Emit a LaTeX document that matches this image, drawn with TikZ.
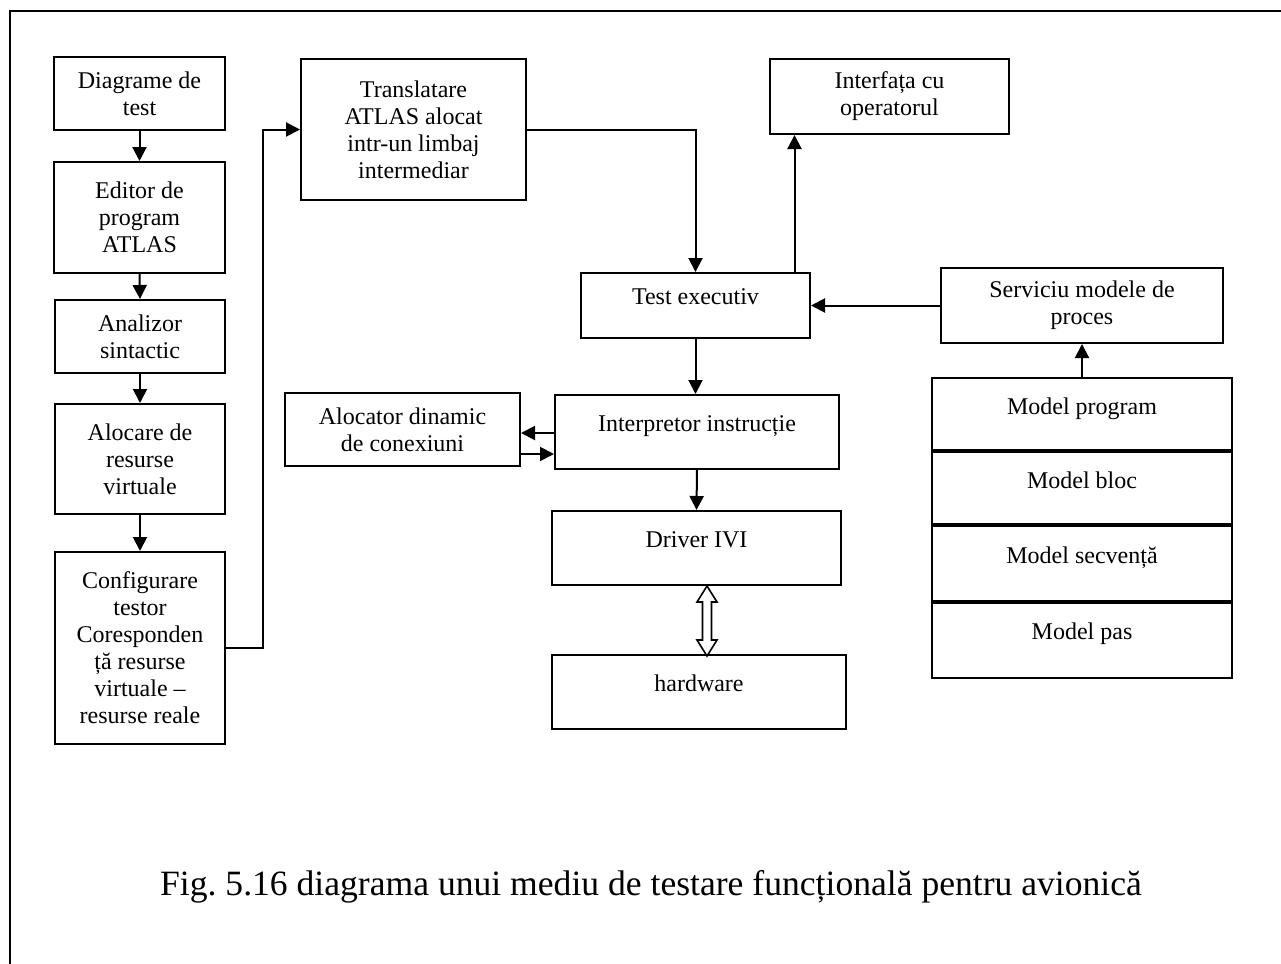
\documentclass[tikz,border=0pt]{standalone}
\usepackage{fontspec}
\setmainfont{Liberation Serif}
\usetikzlibrary{arrows.meta}

\begin{document}
\begin{tikzpicture}[x=0.5pt,y=-0.5pt,
  box/.style={draw,line width=1pt,anchor=north west,inner sep=0pt,align=center,
    font=\fontsize{12}{13.5}\selectfont},
  one/.style={text height=8pt,text depth=9pt},
  arr/.style={line width=1pt,-{Triangle[length=7pt,width=7pt]}}]
  \useasboundingbox (0,0) rectangle (1281,964);
  % frame, open on the right and at the bottom
  \draw[line width=1.2pt] (10,964) -- (10,11) -- (1281,11);

  % left column
  \node[box,minimum width=85.5pt,minimum height=36.5pt] (dia) at (53,56) {Diagrame de\\test};
  \node[box,minimum width=85.5pt,minimum height=55.5pt] (edt) at (53,161) {Editor de\\program\\ATLAS};
  \node[box,minimum width=85pt,minimum height=36.5pt] (ana) at (54,299) {Analizor\\sintactic};
  \node[box,minimum width=85pt,minimum height=55pt] (alo) at (54,403) {Alocare de\\resurse\\virtuale};
  \node[box,minimum width=85pt,minimum height=96pt] (cfg) at (54,551)
    {Configurare\\testor\\Coresponden\\ță resurse\\virtuale --\\resurse reale};

  % middle
  \node[box,minimum width=112.5pt,minimum height=70.5pt] (trl) at (300,58)
    {Translatare\\ATLAS alocat\\intr-un limbaj\\intermediar};
  \node[box,minimum width=119.5pt,minimum height=37.5pt] (ifc) at (769,58) {Interfața cu\\operatorul};
  \node[box,one,minimum width=114.5pt,minimum height=32.5pt] (tst) at (580,272) {Test executiv};
  \node[box,minimum width=117.5pt,minimum height=36.5pt] (alc) at (284,392) {Alocator dinamic\\de conexiuni};
  \node[box,one,minimum width=142pt,minimum height=37pt] (itp) at (554,394) {Interpretor instrucție};
  \node[box,one,minimum width=144.5pt,minimum height=37pt] (drv) at (551,510) {Driver IVI};
  \node[box,one,minimum width=147pt,minimum height=37pt] (hw) at (551,654) {hardware};

  % right column
  \node[box,minimum width=141pt,minimum height=37.5pt] (srv) at (940,267) {Serviciu modele de\\proces};
  \node[box,one,minimum width=150pt,minimum height=37pt] (mprg) at (931,377) {Model program};
  \node[box,one,minimum width=150pt,minimum height=37pt] (mblk) at (931,451) {Model bloc};
  \node[box,one,minimum width=150pt,minimum height=38.5pt] (mseq) at (931,525) {Model secvență};
  \node[box,one,minimum width=150pt,minimum height=37.5pt] (mpas) at (931,602) {Model pas};
  \draw[line width=2pt] (mblk.north west) -- (mblk.north east);
  \draw[line width=2pt] (mseq.north west) -- (mseq.north east);
  \draw[line width=2pt] (mpas.north west) -- (mpas.north east);

  \node[font=\fontsize{17.8}{21}\selectfont,anchor=base] (cap) at (651,895)
    {Fig.\ 5.16 diagrama unui mediu de testare funcțională pentru avionică};

  % connectors
  \draw[arr] (dia.south) -- (edt.north);
  \draw[arr] (edt.south) -- (ana.north);
  \draw[arr] (ana.south) -- (alo.north);
  \draw[arr] (alo.south) -- (cfg.north);
  \draw[arr] (cfg.east) -- ++(37,0) |- (trl.west);
  \draw[arr] (trl.east) -| (tst.north);
  \coordinate (up) at ([xshift=49.5pt]tst.north);
  \draw[arr] (up) -- (up |- ifc.south);
  \draw[arr] (srv.west) -- (tst.east);
  \draw[arr] (mprg.north) -- (srv.south);
  \draw[arr] (tst.south) -- (tst.south |- itp.north);
  \coordinate (i1) at ([yshift=-0.5pt]itp.west);
  \coordinate (i2) at ([yshift=-11pt]itp.west);
  \draw[arr] (i1) -- (i1 -| alc.east);
  \draw[arr] (i2 -| alc.east) -- (i2);
  \draw[arr] (itp.south) -- (drv.north);
  % hollow two-way bus arrow
  \coordinate (bus) at ([xshift=5.25pt]drv.south);
  \draw[line width=0.8pt] (bus) -- ++(10,16) -- ++(-5.5,0) -- ++(0,38) -- ++(5.5,0)
    -- ++(-10,16) -- ++(-10,-16) -- ++(5.5,0) -- ++(0,-38) -- ++(-5.5,0) -- cycle;
\end{tikzpicture}
\end{document}
